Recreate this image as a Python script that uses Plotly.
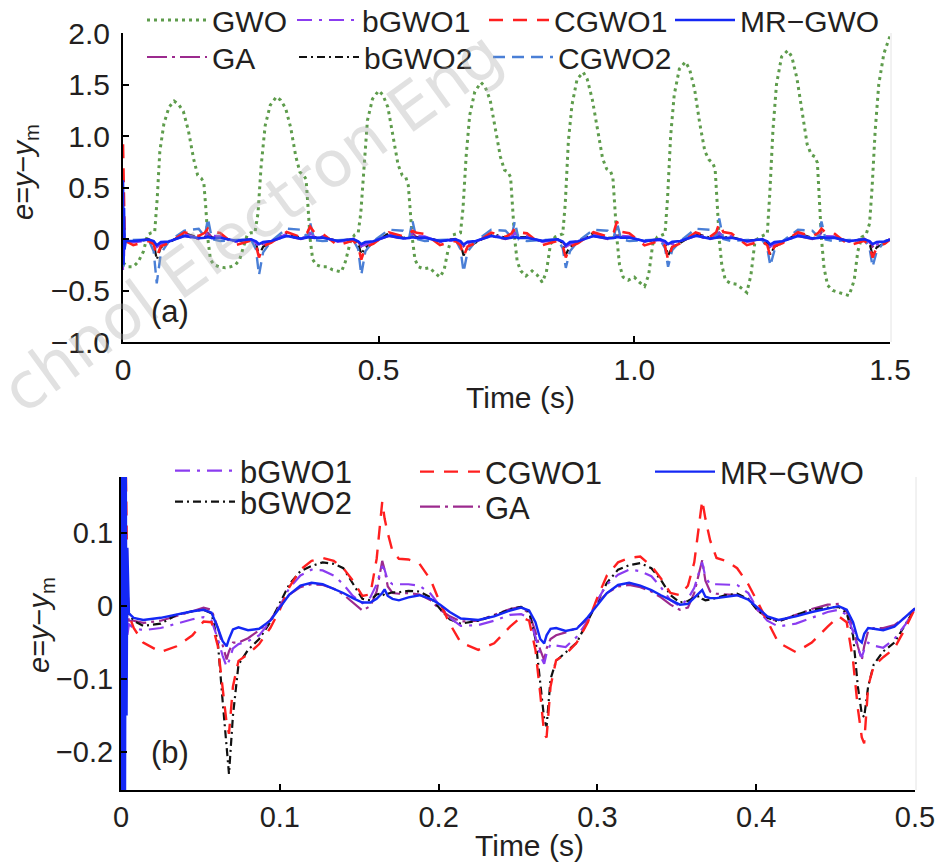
import plotly.graph_objects as go

W, H = 947, 867
FONT = "Liberation Sans, Arial, sans-serif"
INK = "#231f20"

# ---------------- (a) 0-1.5 s, GWO (large error) ----------------
t_gwo = [0.0, 0.01, 0.02, 0.03, 0.04, 0.048, 0.055, 0.062, 0.067, 0.072, 0.08, 0.09, 0.1, 0.108, 0.118, 0.128, 0.138, 0.146, 0.153, 0.158, 0.162, 0.166, 0.171, 0.178, 0.188,
         0.2, 0.21, 0.22, 0.228, 0.236, 0.243, 0.25, 0.258, 0.264, 0.27, 0.278, 0.288, 0.3, 0.308, 0.318, 0.328, 0.338, 0.346, 0.353, 0.358, 0.362, 0.366, 0.371, 0.378, 0.388,
         0.4, 0.41, 0.42, 0.427, 0.435, 0.445, 0.453, 0.46, 0.465, 0.471, 0.478, 0.488, 0.5, 0.508, 0.518, 0.528, 0.538, 0.546, 0.553, 0.558, 0.562, 0.566, 0.571, 0.578, 0.588,
         0.6, 0.61, 0.62, 0.628, 0.636, 0.645, 0.653, 0.66, 0.665, 0.671, 0.678, 0.688, 0.7, 0.708, 0.718, 0.728, 0.738, 0.746, 0.753, 0.758, 0.762, 0.766, 0.771, 0.778, 0.788,
         0.8, 0.81, 0.82, 0.828, 0.836, 0.845, 0.853, 0.86, 0.865, 0.871, 0.878, 0.888, 0.9, 0.908, 0.918, 0.928, 0.938, 0.946, 0.953, 0.958, 0.962, 0.966, 0.971, 0.978, 0.988,
         1.0, 1.01, 1.02, 1.028, 1.036, 1.045, 1.053, 1.06, 1.065, 1.071, 1.078, 1.088, 1.1, 1.108, 1.118, 1.128, 1.138, 1.146, 1.153, 1.158, 1.162, 1.166, 1.171, 1.178, 1.188,
         1.2, 1.21, 1.22, 1.228, 1.236, 1.245, 1.253, 1.26, 1.265, 1.271, 1.278, 1.288, 1.3, 1.308, 1.318, 1.328, 1.338, 1.346, 1.353, 1.358, 1.362, 1.366, 1.371, 1.378, 1.388,
         1.4, 1.41, 1.42, 1.43, 1.437, 1.445, 1.453, 1.46, 1.465, 1.471, 1.478, 1.488, 1.5]
e_gwo = [-0.23, -0.27, -0.27, -0.22, -0.12, 0.04, 0.06, 0.07, 0.4, 0.85, 1.12, 1.28, 1.34, 1.31, 1.24, 1.05, 0.78, 0.62, 0.59, 0.55, 0.3, 0.0, -0.2, -0.25, -0.27,
         -0.28, -0.27, -0.25, -0.2, -0.06, 0.04, 0.06, 0.06, 0.25, 0.7, 1.1, 1.3, 1.38, 1.35, 1.27, 1.08, 0.8, 0.65, 0.62, 0.58, 0.3, 0.0, -0.2, -0.25, -0.27,
         -0.27, -0.3, -0.31, -0.32, -0.22, -0.02, 0.04, 0.06, 0.25, 0.7, 1.15, 1.36, 1.44, 1.4, 1.28, 1.0, 0.72, 0.62, 0.6, 0.52, 0.25, 0.0, -0.2, -0.27, -0.29,
         -0.28, -0.33, -0.37, -0.3, -0.1, 0.04, 0.05, 0.06, 0.3, 0.8, 1.2, 1.43, 1.52, 1.48, 1.35, 1.08, 0.8, 0.67, 0.65, 0.6, 0.3, 0.0, -0.22, -0.31, -0.36,
         -0.31, -0.35, -0.42, -0.32, -0.05, 0.02, 0.04, 0.05, 0.35, 0.95, 1.3, 1.55, 1.62, 1.55, 1.35, 1.05, 0.78, 0.68, 0.66, 0.6, 0.3, 0.0, -0.25, -0.37, -0.4,
         -0.37, -0.42, -0.46, -0.35, -0.05, 0.02, 0.04, 0.05, 0.4, 1.0, 1.4, 1.65, 1.72, 1.65, 1.45, 1.12, 0.85, 0.77, 0.74, 0.68, 0.35, 0.0, -0.25, -0.4, -0.43,
         -0.44, -0.48, -0.52, -0.35, -0.02, 0.02, 0.04, 0.05, 0.45, 1.05, 1.5, 1.77, 1.83, 1.77, 1.56, 1.22, 0.92, 0.82, 0.8, 0.74, 0.38, 0.0, -0.28, -0.45, -0.5,
         -0.52, -0.54, -0.55, -0.4, -0.12, 0.02, 0.04, 0.15, 0.5, 1.05, 1.5, 1.8, 1.97]

# ---------------- (a) the six small-error controllers ----------------
t_a = [0, 0.001, 0.002, 0.003, 0.005,
       0.02, 0.05, 0.06, 0.066, 0.074, 0.09, 0.12, 0.148, 0.16, 0.166, 0.174, 0.19,
       0.22, 0.25, 0.26, 0.266, 0.274, 0.29, 0.32, 0.348, 0.36, 0.366, 0.374, 0.39,
       0.42, 0.45, 0.46, 0.466, 0.474, 0.49, 0.52, 0.548, 0.56, 0.566, 0.574, 0.59,
       0.62, 0.65, 0.66, 0.666, 0.674, 0.69, 0.72, 0.748, 0.76, 0.766, 0.774, 0.79,
       0.82, 0.85, 0.86, 0.866, 0.874, 0.89, 0.92, 0.948, 0.96, 0.966, 0.974, 0.99,
       1.02, 1.05, 1.06, 1.066, 1.074, 1.09, 1.12, 1.148, 1.16, 1.166, 1.174, 1.19,
       1.22, 1.25, 1.26, 1.266, 1.274, 1.29, 1.32, 1.348, 1.36, 1.366, 1.374, 1.39,
       1.42, 1.45, 1.46, 1.466, 1.474, 1.49, 1.5]
ea_mr = [0.57, -0.25, 0.3, -0.1, -0.02,
         -0.02, -0.006, -0.02, -0.06, -0.03, -0.025, 0.03, 0.008, 0.012, 0.022, 0.009, 0.012,
         -0.018, -0.003, -0.022, -0.05, -0.03, -0.02, 0.03, 0.004, 0.012, 0.02, 0.011, 0.014,
         -0.019, 0.0, -0.022, -0.05, -0.03, -0.022, 0.032, 0.006, 0.01, 0.018, 0.01, 0.013,
         -0.02, -0.004, -0.02, -0.055, -0.028, -0.02, 0.03, 0.005, 0.012, 0.02, 0.01, 0.012,
         -0.018, -0.002, -0.024, -0.06, -0.03, -0.022, 0.028, 0.006, 0.01, 0.02, 0.012, 0.014,
         -0.02, -0.004, -0.02, -0.05, -0.028, -0.02, 0.032, 0.004, 0.012, 0.022, 0.01, 0.012,
         -0.019, -0.002, -0.022, -0.055, -0.03, -0.022, 0.03, 0.006, 0.01, 0.018, 0.011, 0.013,
         -0.02, -0.003, -0.02, -0.05, -0.03, -0.024, -0.005]
ea_cgwo1 = [0.92, 0.6, 0.3, 0.1, -0.02,
            -0.06, -0.02, -0.05, -0.17, -0.07, -0.04, 0.065, 0.03, 0.06, 0.1, 0.07, 0.058,
            -0.06, -0.015, -0.06, -0.18, -0.07, -0.035, 0.068, 0.018, 0.06, 0.12, 0.066, 0.052,
            -0.062, -0.014, -0.07, -0.2, -0.08, -0.045, 0.065, 0.025, 0.05, 0.08, 0.06, 0.05,
            -0.058, -0.02, -0.06, -0.17, -0.072, -0.04, 0.062, 0.02, 0.055, 0.1, 0.065, 0.055,
            -0.06, -0.018, -0.065, -0.18, -0.075, -0.04, 0.066, 0.022, 0.07, 0.17, 0.07, 0.056,
            -0.062, -0.016, -0.07, -0.2, -0.078, -0.042, 0.064, 0.02, 0.065, 0.15, 0.068, 0.054,
            -0.06, -0.02, -0.06, -0.17, -0.07, -0.04, 0.066, 0.025, 0.06, 0.1, 0.064, 0.058,
            -0.06, -0.018, -0.07, -0.18, -0.08, -0.045, -0.005]
ea_bgwo2 = [0.2, -0.2, 0.1, -0.05, -0.02,
            -0.025, -0.005, -0.04, -0.2, -0.08, -0.035, 0.055, 0.015, 0.016, 0.015, 0.019, 0.02,
            -0.022, -0.002, -0.04, -0.16, -0.075, -0.03, 0.058, 0.01, 0.012, 0.01, 0.01, 0.017,
            -0.02, -0.001, -0.04, -0.15, -0.08, -0.04, 0.056, 0.012, 0.014, 0.012, 0.015, 0.018,
            -0.022, -0.003, -0.045, -0.16, -0.078, -0.035, 0.055, 0.012, 0.015, 0.013, 0.016, 0.018,
            -0.024, -0.002, -0.04, -0.15, -0.075, -0.035, 0.057, 0.01, 0.013, 0.012, 0.015, 0.017,
            -0.022, -0.003, -0.042, -0.16, -0.08, -0.036, 0.055, 0.012, 0.014, 0.012, 0.016, 0.018,
            -0.02, -0.002, -0.04, -0.15, -0.076, -0.034, 0.056, 0.011, 0.013, 0.012, 0.015, 0.017,
            -0.022, -0.002, -0.042, -0.16, -0.08, -0.04, -0.003]
ea_bgwo1 = [-0.3, 0.2, -0.2, 0.05, -0.03,
            -0.032, -0.015, -0.04, -0.08, -0.052, -0.03, 0.05, 0.008, 0.03, 0.055, 0.03, 0.028,
            -0.028, -0.011, -0.042, -0.078, -0.053, -0.025, 0.05, 0.004, 0.025, 0.058, 0.03, 0.028,
            -0.028, -0.009, -0.04, -0.07, -0.054, -0.028, 0.048, 0.006, 0.024, 0.056, 0.029, 0.027,
            -0.03, -0.012, -0.042, -0.078, -0.052, -0.026, 0.05, 0.005, 0.026, 0.058, 0.03, 0.028,
            -0.028, -0.01, -0.04, -0.075, -0.053, -0.025, 0.049, 0.004, 0.025, 0.057, 0.03, 0.027,
            -0.029, -0.011, -0.042, -0.078, -0.054, -0.026, 0.05, 0.005, 0.025, 0.058, 0.03, 0.028,
            -0.028, -0.01, -0.04, -0.074, -0.052, -0.025, 0.049, 0.004, 0.026, 0.056, 0.029, 0.027,
            -0.028, -0.005, -0.035, -0.07, -0.054, -0.03, -0.003]
ea_ga = [0.1, -0.2, 0.1, -0.05, -0.02,
         -0.022, -0.002, -0.025, -0.073, -0.05, -0.025, 0.03, 0.0, 0.02, 0.06, 0.018, 0.016,
         -0.021, -0.001, -0.035, -0.074, -0.042, -0.025, 0.029, -0.002, 0.018, 0.063, 0.017, 0.015,
         -0.021, 0.003, -0.03, -0.074, -0.032, -0.022, 0.03, -0.001, 0.02, 0.06, 0.018, 0.016,
         -0.02, 0.0, -0.032, -0.072, -0.04, -0.024, 0.029, -0.002, 0.019, 0.062, 0.017, 0.015,
         -0.021, 0.001, -0.03, -0.074, -0.038, -0.023, 0.03, 0.0, 0.02, 0.06, 0.018, 0.016,
         -0.022, 0.0, -0.032, -0.073, -0.04, -0.024, 0.029, -0.001, 0.019, 0.063, 0.017, 0.015,
         -0.021, 0.002, -0.031, -0.074, -0.036, -0.023, 0.03, -0.002, 0.02, 0.061, 0.018, 0.016,
         -0.021, 0.003, -0.03, -0.074, -0.03, -0.022, -0.003]
ea_cgwo2 = [0.4, -0.3, 0.2, -0.1, -0.01,
            -0.01, -0.005, -0.12, -0.43, -0.14, -0.02, 0.08, 0.1, 0.02, 0.2, 0.0, -0.02,
            -0.01, -0.004, -0.1, -0.35, -0.13, -0.02, 0.1, 0.09, 0.02, 0.16, -0.01, -0.02,
            -0.012, -0.005, -0.1, -0.35, -0.12, -0.02, 0.09, 0.08, 0.02, 0.18, 0.0, -0.02,
            -0.01, -0.004, -0.1, -0.32, -0.12, -0.02, 0.09, 0.08, 0.02, 0.17, -0.005, -0.02,
            -0.01, -0.005, -0.09, -0.28, -0.12, -0.02, 0.09, 0.08, 0.02, 0.16, 0.0, -0.02,
            -0.012, -0.004, -0.09, -0.27, -0.11, -0.02, 0.1, 0.09, 0.02, 0.2, 0.0, -0.02,
            -0.01, -0.005, -0.09, -0.26, -0.11, -0.02, 0.09, 0.08, 0.02, 0.17, -0.005, -0.02,
            -0.01, -0.004, -0.09, -0.27, -0.12, -0.02, -0.005]

# ---------------- (b) zoom on 0-0.5 s ----------------
t_b = [0, 0.0005, 0.001, 0.0015, 0.002, 0.0025, 0.003, 0.0035, 0.004, 0.005,
       0.008, 0.014, 0.025, 0.035, 0.045, 0.052, 0.057, 0.061, 0.064, 0.0665, 0.068, 0.0705, 0.074, 0.08, 0.087, 0.094, 0.1,
       0.106, 0.113, 0.12, 0.127, 0.134, 0.14, 0.146, 0.152, 0.157, 0.161, 0.1645, 0.166, 0.168, 0.171, 0.175, 0.181, 0.188, 0.195,
       0.201, 0.207, 0.214, 0.225, 0.235, 0.245, 0.252, 0.257, 0.261, 0.264, 0.2665, 0.268, 0.2705, 0.274, 0.28, 0.287, 0.294, 0.3,
       0.306, 0.313, 0.32, 0.327, 0.334, 0.34, 0.346, 0.352, 0.357, 0.361, 0.3645, 0.366, 0.368, 0.371, 0.375, 0.381, 0.388, 0.395,
       0.401, 0.407, 0.414, 0.425, 0.435, 0.445, 0.452, 0.457, 0.461, 0.464, 0.4665, 0.468, 0.4705, 0.474, 0.48, 0.487, 0.494, 0.5]
eb_mr = [0.3, -0.3, 0.3, -0.3, 0.25, -0.28, 0.2, -0.15, 0.08, -0.01,
         -0.016, -0.019, -0.016, -0.011, -0.007, -0.005, -0.009, -0.03, -0.048, -0.055, -0.045, -0.032, -0.029, -0.033, -0.031, -0.02, -0.002,
         0.016, 0.028, 0.032, 0.03, 0.024, 0.018, 0.011, 0.005, 0.005, 0.01, 0.018, 0.023, 0.014, 0.01, 0.008, 0.012, 0.015, 0.01,
         0.002, -0.008, -0.017, -0.019, -0.014, -0.006, -0.002, -0.006, -0.022, -0.045, -0.051, -0.04, -0.031, -0.03, -0.034, -0.031, -0.015, 0.002,
         0.018, 0.029, 0.032, 0.028, 0.022, 0.015, 0.008, 0.002, 0.003, 0.012, 0.02, 0.022, 0.013, 0.011, 0.011, 0.013, 0.015, 0.009,
         -0.002, -0.014, -0.019, -0.014, -0.008, -0.003, 0.0, -0.005, -0.022, -0.045, -0.05, -0.038, -0.03, -0.031, -0.033, -0.028, -0.015, -0.003]
eb_cgwo1 = [0.9, 0.7, 0.55, 0.45, 0.35, 0.28, 0.2, 0.1, 0.03, -0.012,
            -0.03, -0.05, -0.063, -0.055, -0.04, -0.021, -0.022, -0.055, -0.11, -0.16, -0.175, -0.11, -0.075, -0.066, -0.052, -0.03, -0.005,
            0.026, 0.05, 0.062, 0.066, 0.062, 0.052, 0.035, 0.014, 0.016, 0.065, 0.143, 0.12, 0.1, 0.075, 0.065, 0.064, 0.058, 0.036,
            0.004, -0.024, -0.05, -0.06, -0.051, -0.028, -0.015, -0.02, -0.06, -0.12, -0.175, -0.18, -0.11, -0.074, -0.066, -0.05, -0.022, 0.012,
            0.042, 0.06, 0.066, 0.068, 0.055, 0.038, 0.018, 0.015, 0.028, 0.06, 0.12, 0.145, 0.12, 0.09, 0.066, 0.062, 0.052, 0.03,
            0.005, -0.02, -0.05, -0.063, -0.05, -0.028, -0.014, -0.022, -0.075, -0.14, -0.18, -0.188, -0.11, -0.082, -0.07, -0.058, -0.03, -0.003]
eb_bgwo2 = [0.2, -0.2, 0.15, -0.15, 0.1, -0.1, 0.05, -0.04, 0.01, -0.01,
            -0.02, -0.027, -0.024, -0.012, -0.007, -0.005, -0.01, -0.05, -0.13, -0.2, -0.23, -0.15, -0.08, -0.06, -0.045, -0.022, 0.005,
            0.03, 0.048, 0.055, 0.06, 0.058, 0.052, 0.03, 0.01, 0.008, 0.016, 0.018, 0.014, 0.017, 0.019, 0.019, 0.021, 0.02, 0.012,
            -0.004, -0.018, -0.024, -0.02, -0.013, -0.004, -0.001, -0.008, -0.045, -0.11, -0.155, -0.165, -0.1, -0.075, -0.064, -0.05, -0.02, 0.005,
            0.032, 0.05, 0.056, 0.059, 0.052, 0.036, 0.015, 0.005, 0.007, 0.012, 0.014, 0.01, 0.008, 0.009, 0.011, 0.015, 0.017, 0.01,
            -0.006, -0.016, -0.021, -0.012, -0.005, -0.002, -0.001, -0.01, -0.04, -0.11, -0.148, -0.152, -0.11, -0.08, -0.062, -0.05, -0.025, -0.003]
eb_bgwo1 = [-0.3, 0.2, -0.3, 0.1, -0.2, 0.05, -0.1, 0.02, -0.04, -0.025,
            -0.03, -0.033, -0.03, -0.024, -0.018, -0.015, -0.02, -0.045, -0.068, -0.083, -0.075, -0.058, -0.052, -0.048, -0.04, -0.021, 0.0,
            0.025, 0.042, 0.05, 0.049, 0.042, 0.03, 0.014, 0.004, 0.012, 0.03, 0.055, 0.05, 0.035, 0.03, 0.03, 0.03, 0.028, 0.017,
            0.0, -0.016, -0.027, -0.026, -0.02, -0.012, -0.011, -0.016, -0.042, -0.068, -0.079, -0.065, -0.052, -0.054, -0.056, -0.042, -0.02, 0.008,
            0.03, 0.043, 0.05, 0.048, 0.041, 0.026, 0.008, 0.0, 0.01, 0.025, 0.05, 0.06, 0.04, 0.03, 0.03, 0.03, 0.029, 0.018,
            -0.005, -0.02, -0.028, -0.024, -0.016, -0.008, -0.005, -0.012, -0.035, -0.058, -0.07, -0.06, -0.05, -0.054, -0.057, -0.045, -0.025, -0.003]
eb_ga = [0.1, -0.2, 0.1, -0.15, 0.05, -0.08, 0.02, -0.03, -0.01, -0.02,
         -0.02, -0.023, -0.02, -0.014, -0.007, -0.002, -0.005, -0.03, -0.055, -0.073, -0.062, -0.05, -0.05, -0.044, -0.033, -0.019, 0.0,
         0.016, 0.026, 0.03, 0.029, 0.024, 0.016, 0.005, -0.006, 0.0, 0.02, 0.062, 0.05, 0.027, 0.018, 0.017, 0.018, 0.016, 0.008,
         -0.005, -0.014, -0.021, -0.02, -0.012, -0.004, -0.001, -0.01, -0.035, -0.06, -0.074, -0.058, -0.045, -0.04, -0.036, -0.03, -0.018, 0.004,
         0.018, 0.027, 0.029, 0.026, 0.02, 0.012, 0.002, -0.005, -0.002, 0.018, 0.05, 0.063, 0.035, 0.02, 0.017, 0.016, 0.015, 0.01,
         -0.006, -0.016, -0.021, -0.012, -0.004, 0.002, 0.003, -0.008, -0.03, -0.055, -0.074, -0.055, -0.034, -0.03, -0.03, -0.026, -0.015, -0.003]

for s in (ea_mr, ea_cgwo1, ea_bgwo2, ea_bgwo1, ea_ga, ea_cgwo2):
    assert len(s) == len(t_a), (len(s), len(t_a))
for s in (eb_mr, eb_cgwo1, eb_bgwo2, eb_bgwo1, eb_ga):
    assert len(s) == len(t_b), (len(s), len(t_b))
assert len(t_gwo) == len(e_gwo)

xa_ticks = [0, 0.5, 1.0, 1.5]
xa_text = ["0", "0.5", "1.0", "1.5"]
ya_ticks = [-1.0, -0.5, 0, 0.5, 1.0, 1.5, 2.0]
ya_text = ["\u22121.0", "\u22120.5", "0", "0.5", "1.0", "1.5", "2.0"]
xb_ticks = [0, 0.1, 0.2, 0.3, 0.4, 0.5]
xb_text = ["0", "0.1", "0.2", "0.3", "0.4", "0.5"]
yb_ticks = [-0.2, -0.1, 0, 0.1]
yb_text = ["\u22120.2", "\u22120.1", "0", "0.1"]

# name: (colour, dash)
styles = {
    "GWO": ("#5e9c4c", "3px,4px"),
    "bGWO1": ("#8b3cf0", "15px,7px,3px,7px"),
    "CGWO1": ("#ff1f1f", "14px,10px"),
    "MR\u2212GWO": ("#1428f5", "solid"),
    "GA": ("#9c2a8e", "20px,5px,3px,5px"),
    "bGWO2": ("#111111", "8px,4px,2px,4px"),
    "CGWO2": ("#4a7fd6", "12px,7px"),
}


def px_x(p):
    return p / W


def px_y(p):
    return 1 - p / H


fig = go.Figure()


def add(name, t, e, axis, legend, width):
    color, dash = styles[name]
    fig.add_trace(go.Scatter(
        x=t, y=e, name=name, mode="lines",
        line=dict(color=color, dash=dash, width=width),
        xaxis="x" if axis == 1 else "x2",
        yaxis="y" if axis == 1 else "y2",
        legend=legend, showlegend=True,
    ))


# panel (a)
add("GWO", t_gwo, e_gwo, 1, "legend", 3)
add("GA", t_a, ea_ga, 1, "legend2", 2.2)
add("bGWO2", t_a, ea_bgwo2, 1, "legend3", 2.2)
add("bGWO1", t_a, ea_bgwo1, 1, "legend4", 2.2)
add("CGWO2", t_a, ea_cgwo2, 1, "legend5", 2.4)
add("CGWO1", t_a, ea_cgwo1, 1, "legend6", 2.6)
add("MR\u2212GWO", t_a, ea_mr, 1, "legend7", 2.6)
# panel (b)
add("GA", t_b, eb_ga, 2, "legend8", 2.2)
add("bGWO2", t_b, eb_bgwo2, 2, "legend9", 2.2)
add("bGWO1", t_b, eb_bgwo1, 2, "legend10", 2.2)
add("CGWO1", t_b, eb_cgwo1, 2, "legend11", 2.4)
add("MR\u2212GWO", t_b, eb_mr, 2, "legend12", 2.4)

IW = 60


def leg(text_x, y, size):
    return dict(x=px_x(text_x - IW - 20), y=px_y(y), xanchor="left", yanchor="middle",
                bgcolor="rgba(0,0,0,0)", borderwidth=0, itemwidth=IW,
                font=dict(family=FONT, size=size, color=INK))


axis_common = dict(showline=True, linecolor="black", linewidth=2, ticks="inside",
                   ticklen=6, tickwidth=1.5, tickcolor="black", showgrid=False,
                   zeroline=False, automargin=False,
                   tickfont=dict(family=FONT, color=INK))

fig.update_layout(
    width=W, height=H, autosize=False, showlegend=True,
    margin=dict(l=0, r=0, t=0, b=0, autoexpand=False),
    paper_bgcolor="white", plot_bgcolor="white",
    font=dict(family=FONT, color=INK),
    xaxis=dict(axis_common, domain=[px_x(123), px_x(890)], range=[0, 1.5],
               tickvals=xa_ticks, ticktext=xa_text, tickfont_size=30, anchor="y"),
    yaxis=dict(axis_common, domain=[px_y(342), px_y(33)], range=[-1.0, 2.0],
               tickvals=ya_ticks, ticktext=ya_text, tickfont_size=30, anchor="x",
               ticklabelstandoff=5),
    xaxis2=dict(axis_common, domain=[px_x(121), px_x(915)], range=[0, 0.5],
                tickvals=xb_ticks, ticktext=xb_text, tickfont_size=29, anchor="y2"),
    yaxis2=dict(axis_common, domain=[px_y(790), px_y(477)], range=[-0.252, 0.177],
                tickvals=yb_ticks, ticktext=yb_text, tickfont_size=29, anchor="x2"),
    legend=leg(222, 20, 30),
    legend2=leg(222, 57, 30),
    legend3=leg(374, 57, 30),
    legend4=leg(372, 20, 30),
    legend5=leg(568, 57, 30),
    legend6=leg(564, 20, 30),
    legend7=leg(750, 20, 30),
    legend8=leg(495, 507, 31),
    legend9=leg(250, 502, 31),
    legend10=leg(250, 471, 31),
    legend11=leg(495, 472, 31),
    legend12=leg(730, 472, 31),
    shapes=[
        dict(type="line", xref="paper", yref="paper", x0=px_x(891), x1=px_x(891),
             y0=px_y(342), y1=px_y(33), line=dict(color="#e4e4e4", width=1)),
        dict(type="line", xref="paper", yref="paper", x0=px_x(916), x1=px_x(916),
             y0=px_y(790), y1=px_y(477), line=dict(color="#e4e4e4", width=1)),
    ],
)

ytitle = "<i>e</i>=<i>y</i>\u2212<i>y</i><sub>m</sub>"
ann = [
    dict(text="chnol Electron Eng", x=px_x(252), y=px_y(222), textangle=-36,
         font=dict(family="DejaVu Sans, sans-serif", size=64, color="rgba(170,170,170,0.35)")),
    dict(text="(a)", x=px_x(170), y=px_y(312), font=dict(size=31)),
    dict(text="(b)", x=px_x(170), y=px_y(752), font=dict(size=31)),
    dict(text="Time (s)", x=px_x(520), y=px_y(397), font=dict(size=30)),
    dict(text="Time (s)", x=px_x(529), y=px_y(845), font=dict(size=30)),
    dict(text=ytitle, x=px_x(25), y=px_y(172), textangle=-90, font=dict(size=29)),
    dict(text=ytitle, x=px_x(41), y=px_y(625), textangle=-90, font=dict(size=29)),
]
for a in ann:
    a.update(xref="paper", yref="paper", showarrow=False, xanchor="center", yanchor="middle")
    a["font"].setdefault("family", FONT)
    a["font"].setdefault("color", INK)
fig.update_layout(annotations=ann)

fig.write_html("out.html", config={"displayModeBar": False},
               post_script="document.body.style.margin='0px';")
